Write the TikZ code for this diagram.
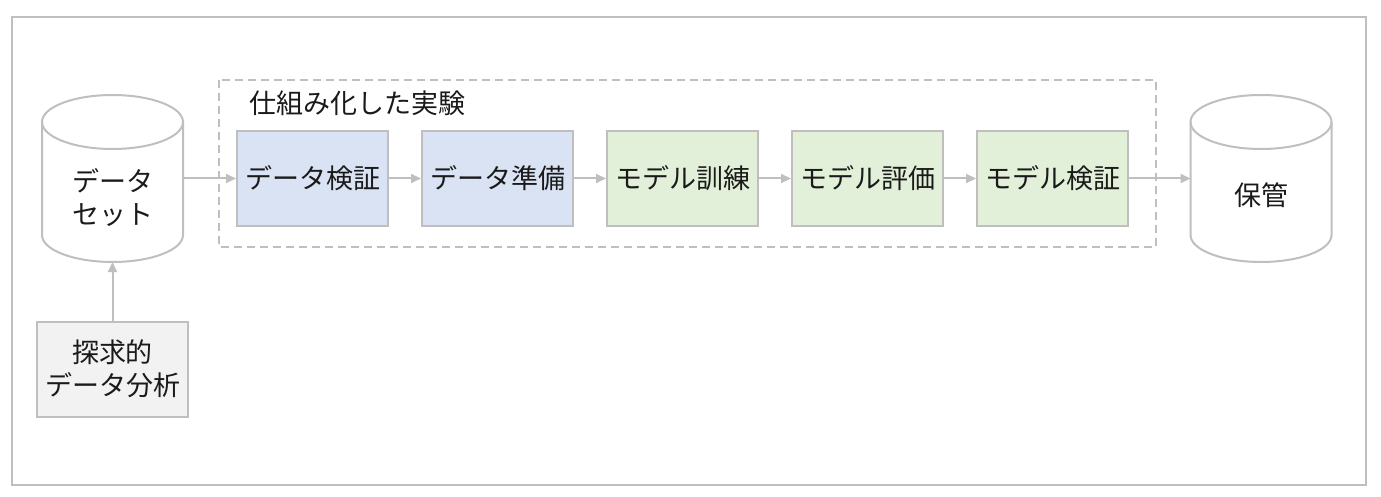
\documentclass[tikz,border=0pt]{standalone}
\usepackage{fontspec}
\setmainfont{Noto Sans CJK JP}
\usetikzlibrary{arrows.meta,positioning}
\definecolor{linegray}{HTML}{BFBFBF}
\definecolor{prepblue}{HTML}{DAE3F3}
\definecolor{modelgreen}{HTML}{E2F0D9}
\definecolor{edagray}{HTML}{F2F2F2}
\definecolor{textgray}{HTML}{1A1A1A}

% cylinder outline round a store node
\newcommand{\storeoutline}[1]{%
    \draw[linegray, line width=2pt]
        ([yshift=-27pt]#1.north west) -- ([yshift=27pt]#1.south west)
        arc[start angle=180, end angle=360, x radius=70.5pt, y radius=27pt]
        -- ([yshift=-27pt]#1.north east);
    \draw[linegray, line width=2pt] ([yshift=-27pt]#1.north) ellipse [x radius=70.5pt, y radius=27pt];
}

\begin{document}
\begin{tikzpicture}[
        x=1pt, y=-1pt,
        every node/.style={font=\fontsize{27}{33}\selectfont, text=textgray},
        stage/.style={draw=linegray, line width=2pt, minimum width=151pt, minimum height=95pt, inner sep=0pt},
        databox/.style={stage, fill=prepblue},
        modelbox/.style={stage, fill=modelgreen},
        edabox/.style={stage, fill=edagray, align=center},
        store/.style={minimum width=141pt, minimum height=167pt, inner sep=0pt, outer sep=0pt},
        storelabel/.style={align=center, yshift=-19pt},
        flow/.style={-{Triangle[length=10pt,width=9pt]}, draw=linegray, line width=2pt}
    ]

    \useasboundingbox (0,0) rectangle (1381,497);

    % Outer frame
    \draw[linegray, line width=2pt] (12,17) rectangle (1366,485);

    % Dashed area around the pipeline
    \draw[linegray, line width=2pt, dash pattern=on 8pt off 5pt] (219,80) rectangle (1156,247);
    \node[anchor=west] (pipetitle) at (246,103) {仕組み化した実験};

    % Data stores
    \node[store, label={[storelabel]center:データ\\セット}] (dataset) at (112.5,178.5) {};
    \node[store, label={[storelabel, yshift=2pt]center:保管}] (archive) at (1261,178.5) {};
    \storeoutline{dataset}
    \storeoutline{archive}

    % Pipeline stages
    \node[databox] (validate) at (312.5,178.5) {データ検証};
    \node[databox, right=32pt of validate] (prepare) {データ準備};
    \node[modelbox, right=32pt of prepare] (train) {モデル訓練};
    \node[modelbox, right=32pt of train] (evaluate) {モデル評価};
    \node[modelbox, right=32pt of evaluate] (check) {モデル検証};

    % Exploratory analysis
    \node[edabox] (eda) at (112.5,369) {探求的\\データ分析};

    % Connectors
    \draw[flow] (dataset) -- (validate);
    \draw[flow] (validate) -- (prepare);
    \draw[flow] (prepare) -- (train);
    \draw[flow] (train) -- (evaluate);
    \draw[flow] (evaluate) -- (check);
    \draw[flow] (check) -- (archive);
    \draw[flow] (eda) -- (dataset);

\end{tikzpicture}
\end{document}
